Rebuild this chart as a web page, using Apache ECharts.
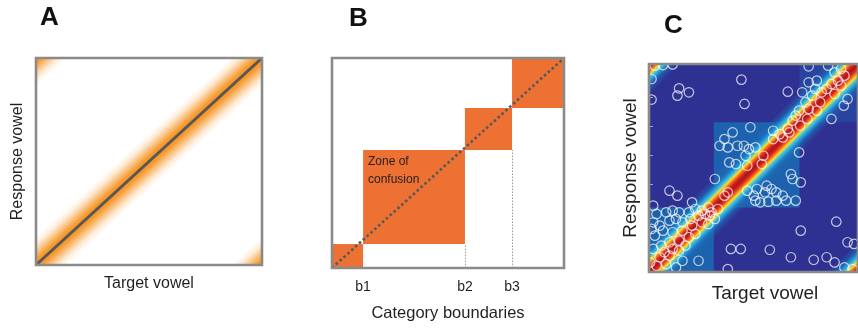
<!DOCTYPE html>
<html>
<head>
<meta charset="utf-8">
<script src="https://cdn.jsdelivr.net/npm/echarts@6/dist/echarts.min.js"></script>
<style>
  html, body { margin: 0; padding: 0; background: #fff; }
  #chart { width: 858px; height: 329px; }
</style>
</head>
<body>
<div id="chart"></div>
<script>
// Panel B: category boundaries on the target (x) and response (y) continua
const boundaryX = [0, 0.134, 0.573, 0.776, 1];
const boundaryY = [0, 0.114, 0.562, 0.762, 1];
const boundaryLabels = ['b1', 'b2', 'b3'];

// Panel C: category edges on the vowel continuum (both axes)
const vowelEdges = [0, 31, 72, 100];

// Panel C: single responses as [target vowel, response vowel]
const responses = [
  [2.8, 99.2], [6.7, 99.5], [11.3, 99.8], [1.2, 92.8], [44.2, 92.5], [14.4, 88.3], [19.1, 86.4],
  [13.6, 84.8], [1.2, 82.9], [66.4, 86.7], [45.7, 80.8],
  [76.4, 98.9], [85.7, 99.2], [88.8, 96], [91.9, 97.6], [76.4, 91.2], [80.3, 92], [73.3, 86.4],
  [78, 84.8], [81.9, 81.6], [85, 88], [87.3, 90.4], [90.4, 92], [93.5, 94.4], [80.3, 77.6],
  [76.4, 78.4], [71.8, 77.6], [75.7, 73.6], [70.2, 75.2], [68.7, 72.8], [87.3, 73.6], [93.2, 80],
  [95, 83.2], [82.6, 86.4], [88.8, 85.6], [79.5, 88], [91.9, 89.6], [74.9, 81.6], [72.3, 70.4],
  [66.4, 68.8], [62.5, 66.3], [64, 64.7],
  [40, 67.1], [48.5, 69.6], [59.4, 67.9], [36.1, 63.9], [33.8, 60.7], [37.7, 59.9], [42.3, 60.7],
  [45.4, 60.7], [47.8, 59.1], [50.9, 59.9], [46.2, 55.9], [54.7, 55.9], [54, 51.9], [67.1, 67.1],
  [59.4, 63.9], [71.8, 57.5], [47, 51.1], [41.6, 51.9], [38.4, 52.7], [67.9, 47.1], [68.7, 44.7],
  [72.6, 43.1], [56.3, 41.5], [58.6, 39.9], [55.5, 38.3], [60.9, 38.3], [64, 36.7], [50.1, 36.7],
  [50.9, 34.3], [53.2, 33.5], [57.1, 33.8], [60.9, 34.3], [65.6, 34.3], [70.2, 34.3], [51.6, 39.9],
  [47, 39.1], [37.7, 38.3], [36.1, 36.7],
  [31.5, 44.7], [9.8, 39.1], [13.6, 36.7], [20.6, 33.5],
  [3.6, 27.9], [8.2, 28.7], [11.3, 29.5], [14.4, 28.7], [19.1, 28.7], [22.2, 30.3], [25.3, 29.5],
  [28.4, 31.1], [2, 23.9], [5.1, 22.3], [9.8, 24.7], [12.9, 25.5], [16, 23.9], [19.8, 25.5],
  [23.7, 27.1], [26.8, 27.9], [29.9, 28.7], [2.8, 17.5], [6.7, 19.9], [11.3, 19.1], [16, 19.9],
  [20.6, 22.3], [25.3, 23.9], [2, 11.1], [5.9, 12.7], [9.8, 14.3], [14.4, 15.1], [19.1, 16.7],
  [22.2, 18.3], [5.1, 7.1], [9.8, 7.9], [14.4, 10.3], [3.6, 3], [8.2, 3.8], [16, 5.4], [23.7, 5.4],
  [28.4, 23.1], [29.1, 27.1], [2, 31.9], [1.2, 20.7], [17.5, 12.7], [11.3, 11.1], [7.4, 9.5],
  [0.5, 4.6], [12.9, 2.2], [31.5, 25.5], [33, 30.3],
  [89.6, 24.2], [72.6, 19.9], [39.2, 11.1], [43.9, 11.1], [57.8, 10.7], [67.9, 7.1], [78.8, 5.9],
  [85, 7.1], [88.8, 4.6], [95, 14.3], [98.1, 13.5], [93.5, 2.2], [37.7, 1.4], [97.4, 1.4]
];

const FONT = '"Liberation Sans", Arial, sans-serif';
const TEXT = '#231f20';
const FRAME = '#8a8a8a';

// Glow profiles: [perpendicular distance from the diagonal in px, colour]
const orangeGlow = [
  [0, 'rgba(246,146,30,1)'], [4, 'rgba(246,146,30,0.9)'], [10, 'rgba(246,146,30,0.5)'],
  [15, 'rgba(246,146,30,0.18)'], [21, 'rgba(246,146,30,0)']
];
const jetGlow = [
  [0, '#a8161b'], [3, '#de251f'], [5.6, '#f47a20'], [7.6, '#f7e21c'], [10.2, '#46c0e2'],
  [13.2, '#1f8ed0'], [16.5, 'rgba(30,110,185,0.55)'], [22, 'rgba(30,110,185,0)']
];

// Rect covering the plot, filled with a gradient running across the main diagonal;
// the two far ends of the gradient land on the off corners (wrap-around).
function diagonalGlow(idx, lo, hi, profile) {
  return {
    type: 'custom', xAxisIndex: idx, yAxisIndex: idx, data: [[lo, lo, hi, hi]],
    encode: { x: [0, 2], y: [1, 3] }, silent: true, z: 3,
    renderItem: function (params, api) {
      const bl = api.coord([lo, lo]);
      const tr = api.coord([hi, hi]);
      const w = tr[0] - bl[0], h = bl[1] - tr[1];
      const len = Math.hypot(w, h);
      const D = w * h / len;
      const nx = h / len, ny = w / len;
      const cx = (bl[0] + tr[0]) / 2, cy = (bl[1] + tr[1]) / 2;
      const stops = [];
      profile.forEach(function (s) { stops.push({ offset: s[0] / (2 * D), color: s[1] }); });
      profile.slice().reverse().forEach(function (s) { stops.push({ offset: 0.5 - s[0] / (2 * D), color: s[1] }); });
      profile.forEach(function (s) { if (s[0] > 0) stops.push({ offset: 0.5 + s[0] / (2 * D), color: s[1] }); });
      profile.slice().reverse().forEach(function (s) { stops.push({ offset: 1 - s[0] / (2 * D), color: s[1] }); });
      const dedup = stops.filter(function (s, i) { return i === 0 || s.offset !== stops[i - 1].offset || s.color !== stops[i - 1].color; });
      return {
        type: 'rect',
        shape: { x: bl[0], y: tr[1], width: w, height: h },
        style: {
          fill: new echarts.graphic.LinearGradient(cx - nx * D, cy - ny * D, cx + nx * D, cy + ny * D, dedup, true)
        }
      };
    }
  };
}

// Filled rectangles from consecutive edge pairs
function blocks(idx, xs, ys, colorOf, z) {
  const data = [];
  for (let i = 0; i < xs.length - 1; i++) data.push([xs[i], ys[i], xs[i + 1], ys[i + 1], i]);
  return {
    type: 'custom', xAxisIndex: idx, yAxisIndex: idx, data: data, silent: true, z: z,
    encode: { x: [0, 2], y: [1, 3] },
    renderItem: function (params, api) {
      const p0 = api.coord([api.value(0), api.value(1)]);
      const p1 = api.coord([api.value(2), api.value(3)]);
      return {
        type: 'rect',
        shape: { x: p0[0], y: p1[1], width: p1[0] - p0[0], height: p0[1] - p1[1] },
        style: { fill: colorOf(api.value(4)) }
      };
    }
  };
}

// Plot frame drawn over everything else
function frame(idx, lo, hi) {
  return {
    type: 'custom', xAxisIndex: idx, yAxisIndex: idx, data: [[lo, lo, hi, hi]], silent: true, z: 20,
    encode: { x: [0, 2], y: [1, 3] },
    renderItem: function (params, api) {
      const p0 = api.coord([lo, lo]);
      const p1 = api.coord([hi, hi]);
      return {
        type: 'rect',
        shape: { x: p0[0], y: p1[1], width: p1[0] - p0[0], height: p0[1] - p1[1] },
        style: { fill: 'none', stroke: FRAME, lineWidth: 2.6 }
      };
    }
  };
}

function hiddenAxis(idx, lo, hi, extra) {
  return Object.assign({
    type: 'value', gridIndex: idx, min: lo, max: hi,
    axisLine: { show: false }, axisTick: { show: false }, axisLabel: { show: false },
    splitLine: { show: false }, nameLocation: 'middle',
    nameTextStyle: { fontFamily: FONT, fontSize: 16, color: TEXT }
  }, extra || {});
}

const cShades = ['#1d62ae', '#1d62ae', '#29449e'];

// Dotted guides below each boundary in panel B
const guideLines = [];
for (let i = 2; i < boundaryX.length - 1; i++) {
  guideLines.push({ coords: [[boundaryX[i], 0], [boundaryX[i], boundaryY[i - 1]]] });
}

const letterStyle = { fontFamily: FONT, fontSize: 26, fontWeight: 'bold', color: '#111' };

const option = {
  backgroundColor: '#ffffff',
  animation: false,
  title: [
    { text: 'A', left: 40, top: 5, padding: 0, textStyle: letterStyle },
    { text: 'B', left: 349, top: 6, padding: 0, textStyle: letterStyle },
    { text: 'C', left: 664, top: 13, padding: 0, textStyle: letterStyle },
    {
      text: 'Zone of\nconfusion', left: 368, top: 153, padding: 0,
      textStyle: { fontFamily: FONT, fontSize: 12, fontWeight: 'normal', color: TEXT, lineHeight: 18 }
    }
  ],
  grid: [
    { left: 36, top: 58, width: 226, height: 207, show: true, backgroundColor: '#fff', borderWidth: 0 },
    { left: 332, top: 58, width: 232, height: 210, show: true, backgroundColor: '#fff', borderWidth: 0 },
    { left: 649, top: 64, width: 215, height: 208, show: true, backgroundColor: '#2e3192', borderWidth: 0 }
  ],
  xAxis: [
    hiddenAxis(0, 0, 1, { name: 'Target vowel', nameGap: 11 }),
    hiddenAxis(1, 0, 1, {
      name: 'Category boundaries', nameGap: 37,
      nameTextStyle: { fontFamily: FONT, fontSize: 16.5, color: TEXT },
      axisLabel: {
        show: true, customValues: boundaryX.slice(1, 4), margin: 12,
        fontFamily: FONT, fontSize: 14, color: TEXT,
        formatter: function (v) {
          let best = 0;
          boundaryX.slice(1, 4).forEach(function (b, i) { if (Math.abs(b - v) < Math.abs(boundaryX[best + 1] - v)) best = i; });
          return boundaryLabels[best];
        }
      }
    }),
    hiddenAxis(2, 0, 100, {
      name: 'Target vowel', nameGap: 12,
      nameTextStyle: { fontFamily: FONT, fontSize: 19, color: TEXT, padding: [0, 0, 0, 23] }
    })
  ],
  yAxis: [
    hiddenAxis(0, 0, 1, { name: 'Response vowel', nameRotate: 90, nameGap: 10 }),
    hiddenAxis(1, 0, 1),
    hiddenAxis(2, 0, 100, {
      name: 'Response vowel', nameRotate: 90, nameGap: 9, interval: 14,
      nameTextStyle: { fontFamily: FONT, fontSize: 19, color: TEXT },
      axisTick: { show: true, inside: true, length: 4, lineStyle: { color: 'rgba(205,205,215,0.75)', width: 1 } }
    })
  ],
  series: [
    // A: graded confusion around the identity line
    diagonalGlow(0, 0, 1, orangeGlow),
    {
      type: 'line', xAxisIndex: 0, yAxisIndex: 0, data: [[0, 0], [1, 1]], symbol: 'none', z: 5,
      lineStyle: { color: '#555759', width: 3 }, silent: true
    },
    frame(0, 0, 1),

    // B: categorical zones of confusion
    blocks(1, boundaryX, boundaryY, function () { return '#ed7133'; }, 3),
    {
      type: 'lines', coordinateSystem: 'cartesian2d', xAxisIndex: 1, yAxisIndex: 1, z: 4, silent: true,
      data: guideLines, lineStyle: { color: '#9a9a9a', width: 1, type: [1.5, 1.5], opacity: 1 }
    },
    {
      type: 'line', xAxisIndex: 1, yAxisIndex: 1, data: [[0, 0], [1, 1]], symbol: 'none', z: 5,
      lineStyle: { color: '#58585a', width: 2.6, type: [2.6, 2.6] }, silent: true
    },
    frame(1, 0, 1),

    // C: response density with the category blocks, plus individual responses
    blocks(2, vowelEdges, vowelEdges, function (i) { return cShades[i]; }, 2),
    diagonalGlow(2, 0, 100, jetGlow),
    {
      type: 'scatter', xAxisIndex: 2, yAxisIndex: 2, data: responses, symbol: 'circle', symbolSize: 9.5,
      clip: true, z: 8, silent: true,
      itemStyle: { color: 'rgba(0,0,0,0)', borderColor: 'rgba(255,255,255,0.9)', borderWidth: 1.2 }
    },
    frame(2, 0, 100)
  ]
};

const chart = echarts.init(document.getElementById('chart'), null, { renderer: 'canvas' });
chart.setOption(option);
</script>
</body>
</html>
